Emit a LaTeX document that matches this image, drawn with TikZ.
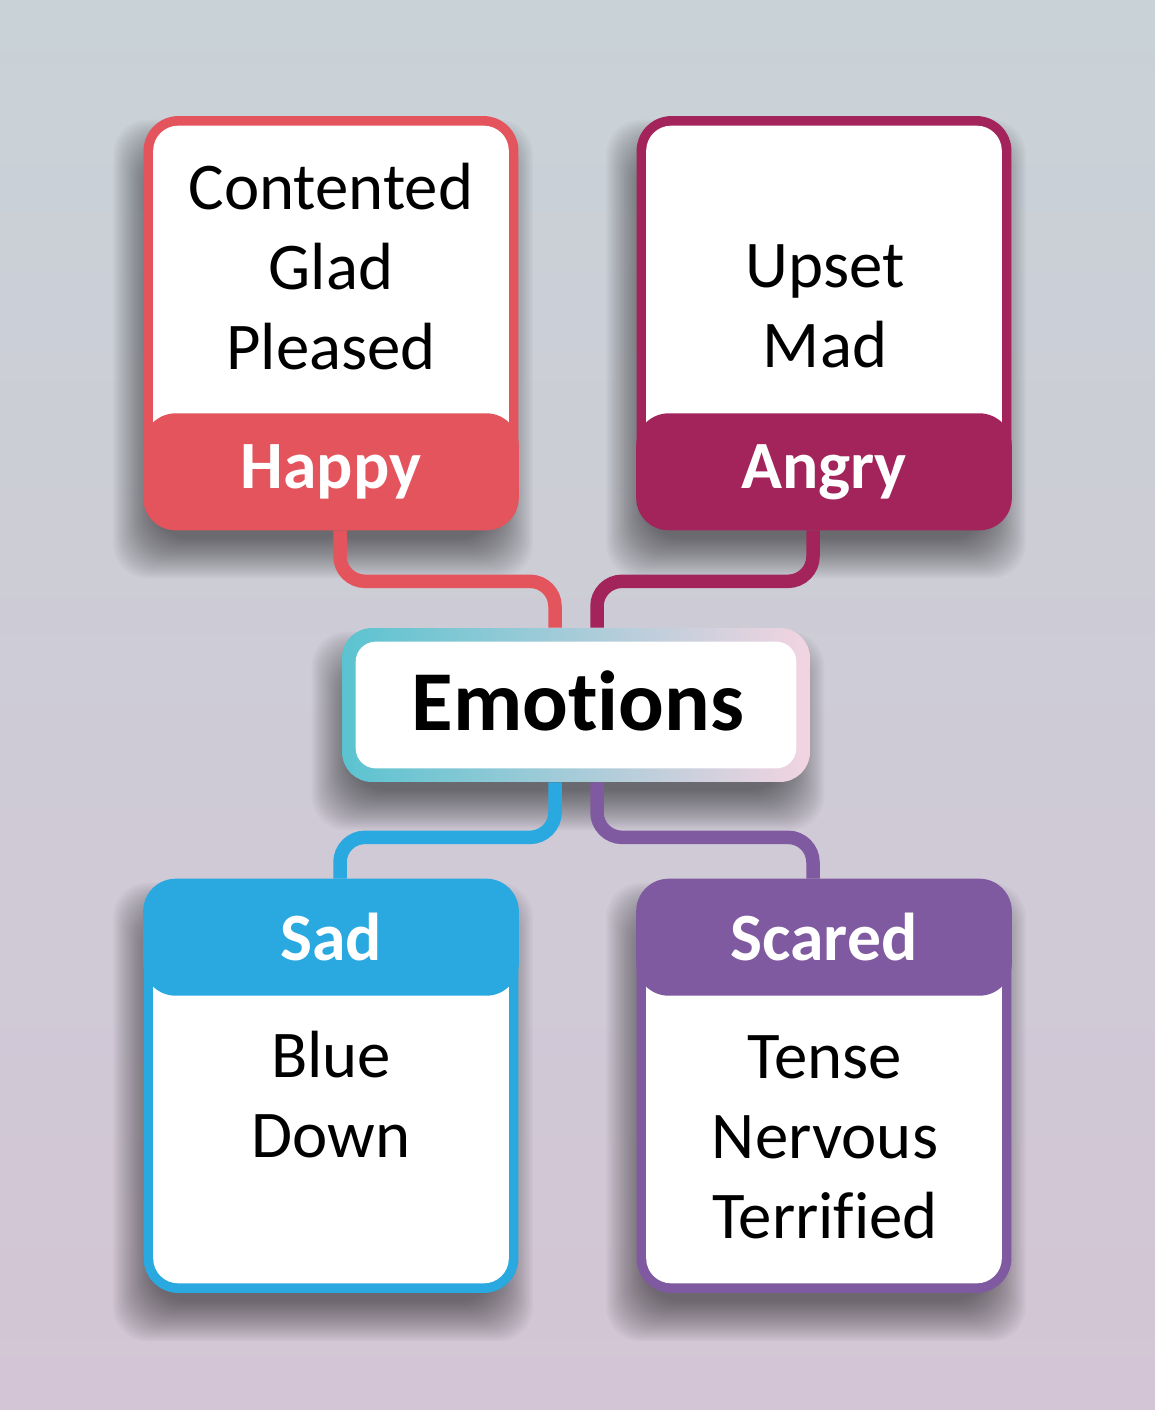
\documentclass[tikz,border=0pt]{standalone}
\usepackage{fontspec}
\setmainfont{Carlito}[Ligatures={NoCommon,NoRare}]
\usetikzlibrary{calc}
\definecolor{bgtop}{HTML}{C9D2D7}
\definecolor{bgbot}{HTML}{D3C5D5}
\definecolor{happyc}{HTML}{E4545D}
\definecolor{angryc}{HTML}{A2245B}
\definecolor{sadc}{HTML}{29A9E0}
\definecolor{scaredc}{HTML}{7F5AA0}
\definecolor{emoL}{HTML}{5BC3D0}
\definecolor{emoM}{HTML}{C2D3DE}
\definecolor{emoR}{HTML}{F3D4E1}
\pgfdeclarelayer{back}\pgfdeclarelayer{shade}\pgfsetlayers{back,shade,main}
\tikzset{
  card/.style={fill=#1,rounded corners=0.7cm,minimum width=7.5cm,minimum height=8.28cm,inner sep=0pt},
  hub/.style={left color=emoL,middle color=emoM,right color=emoR,rounded corners=0.6cm,minimum width=9.36cm,minimum height=3.08cm,inner sep=0pt},
  words/.style={align=center,inner sep=0pt,anchor=north,font=\fontsize{38}{45.5}\selectfont},
  head/.style={text=white,inner sep=0pt,anchor=base,font=\fontsize{38.5}{44}\selectfont\bfseries},
  link/.style={draw=#1,line width=0.27cm,rounded corners=0.5cm},
}
\begin{document}
\begin{tikzpicture}[x=0.02cm,y=-0.02cm]
\begin{pgfonlayer}{back}
\shade[top color=bgtop,bottom color=bgbot] (0,0) rectangle (1155,1410);
\end{pgfonlayer}
\useasboundingbox (0,0) rectangle (1155,1410);
% four cards and the hub
\node[card=happyc] (happy) at (331,323) {};
\node[card=angryc] (angry) at (824,323) {};
\node[card=sadc] (sad) at (331,1086) {};
\node[card=scaredc] (scared) at (824,1086) {};
\node[hub] (emo) at (576,705) {};
% soft shadows
\begin{pgfonlayer}{shade}
\foreach \nm in {happy,angry,sad,scared,emo}{\foreach \k in {0,...,20}{\pgfmathsetmacro{\e}{22-2*\k}
\fill[black,opacity=0.026,rounded corners=0.7cm] ($(\nm.north west)+(-8-\e,26-\e)$) rectangle ($(\nm.south east)+(-8+\e,26+\e)$);}}
\end{pgfonlayer}
\foreach \nm in {happy,angry,sad,scared}{\fill[white,rounded corners=0.5cm] ($(\nm.north west)+(10,10)$) rectangle ($(\nm.south east)+(-10,-10)$);}
\foreach \nm/\col in {happy/happyc,angry/angryc}{\fill[\col,rounded corners=0.65cm] ($(\nm.south west)+(0,-117)$) rectangle (\nm.south east);}
\foreach \nm/\col in {sad/sadc,scared/scaredc}{\fill[\col,rounded corners=0.65cm] (\nm.north west) rectangle ($(\nm.north east)+(0,117)$);}
\fill[white,rounded corners=0.4cm] ($(emo.north west)+(14,14)$) rectangle ($(emo.south east)+(-14,-14)$);
% texts
\node[head] (happyhead) at (331,488) {Happy};
\node[head] (angryhead) at (824,488) {Angry};
\node[head] (sadhead) at (331,960) {Sad};
\node[head] (scaredhead) at (824,960) {Scared};
\node[words] (happywords) at (331,163) {Contented\\Glad\\Pleased};
\node[words] (angrywords) at (825,244) {Upset\\Mad};
\node[words] (sadwords) at (331,1031) {Blue\\Down};
\node[words] (scaredwords) at (825,1035) {Tense\\Nervous\\Terrified};
\node[anchor=base,inner sep=0pt,font=\fontsize{48.5}{52}\selectfont\bfseries] (emotext) at (578,730) {Emotions};
% links
\draw[link=happyc] ($(happy.south)+(9,0)$) -- ++(0,51) -| ($(emo.north)+(-21,0)$);
\draw[link=angryc] ($(angry.south)+(-11,0)$) -- ++(0,51) -| ($(emo.north)+(21,0)$);
\draw[link=sadc] ($(emo.south)+(-21,0)$) -- ++(0,55) -| ($(sad.north)+(9,0)$);
\draw[link=scaredc] ($(emo.south)+(21,0)$) -- ++(0,55) -| ($(scared.north)+(-11,0)$);
\end{tikzpicture}
\end{document}
